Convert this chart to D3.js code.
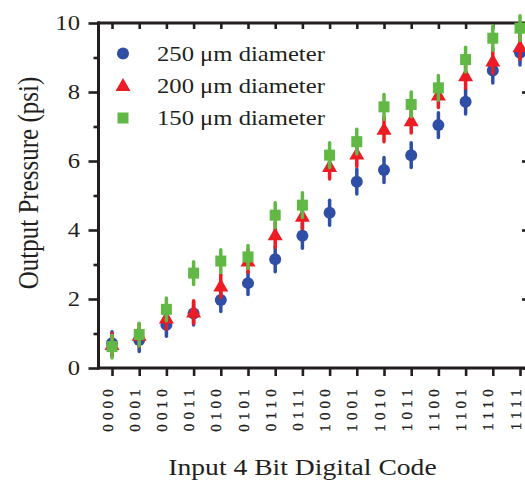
<!DOCTYPE html>
<html>
<head>
<meta charset="utf-8">
<script src="https://cdn.jsdelivr.net/npm/d3@7"></script>
<style>
  html, body { margin: 0; padding: 0; background: #fff; }
  svg { display: block; }
  text { font-family: "Liberation Serif", "Times New Roman", serif; fill: #231f20; }
</style>
</head>
<body>
<svg id="chart" width="525" height="482"></svg>
<script>
// Input codes along the x axis
const codes = ["0000","0001","0010","0011","0100","0101","0110","0111",
               "1000","1001","1010","1011","1100","1101","1110","1111"];

// Measured output pressure (psi) for each orifice diameter
const p250 = [0.72, 0.81, 1.25, 1.58, 1.97, 2.46, 3.15, 3.83, 4.50, 5.40, 5.74, 6.17, 7.04, 7.72, 8.62, 9.14];
const p200 = [0.68, 0.95, 1.45, 1.62, 2.38, 3.10, 3.86, 4.40, 5.84, 6.20, 6.92, 7.17, 7.91, 8.47, 8.90, 9.31];
const p150 = [0.62, 0.97, 1.70, 2.75, 3.10, 3.22, 4.43, 4.72, 6.17, 6.56, 7.57, 7.64, 8.12, 8.94, 9.56, 9.85];

// Error bar half-widths (psi)
const e250 = [0.33, 0.33, 0.33, 0.33, 0.33, 0.33, 0.36, 0.36, 0.36, 0.36, 0.36, 0.36, 0.36, 0.36, 0.36, 0.36];
const e200 = [0.33, 0.33, 0.33, 0.33, 0.33, 0.33, 0.36, 0.36, 0.36, 0.36, 0.36, 0.36, 0.36, 0.36, 0.36, 0.36];
const e150 = [0.33, 0.33, 0.33, 0.33, 0.33, 0.33, 0.36, 0.36, 0.36, 0.36, 0.36, 0.36, 0.36, 0.36, 0.36, 0.36];

const seriesNames = ["250 \u03BCm diameter", "200 \u03BCm diameter", "150 \u03BCm diameter"];
const yTicks = [0, 2, 4, 6, 8, 10];
const yMinorTicks = [1, 3, 5, 7, 9];

const series = [
  { name: seriesNames[0], values: p250, err: e250, color: "#2f4ea6", shape: "circle" },
  { name: seriesNames[1], values: p200, err: e200, color: "#ec1c24", shape: "triangle" },
  { name: seriesNames[2], values: p150, err: e150, color: "#62b845", shape: "square" }
];

const svg = d3.select("#chart");

const frameL = 98.5, frameR = 532, frameT = 23, frameB = 368;
const x = d3.scalePoint().domain(codes).range([112, 520]);
const y = d3.scaleLinear().domain([0, 10]).range([frameB, frameT]);

const ink = "#231f20";

// stretch a text element horizontally by a factor
function widen(sel, k) {
  sel.each(function () {
    const len = this.getComputedTextLength();
    d3.select(this).attr("textLength", len * k).attr("lengthAdjust", "spacingAndGlyphs");
  });
}

// --- axes ---
const axes = svg.append("g");

// left axis
const gl = axes.append("g").attr("transform", `translate(${frameL},0)`)
  .call(d3.axisLeft(y).tickValues(yTicks).tickSize(10).tickFormat(""));
gl.append("g").call(d3.axisLeft(y).tickValues(yMinorTicks).tickSize(5).tickFormat(""));

// right axis (ticks inward)
const gr = axes.append("g").attr("transform", `translate(${frameR},0)`)
  .call(d3.axisLeft(y).tickValues(yTicks).tickSize(10).tickFormat(""));
gr.append("g").call(d3.axisLeft(y).tickValues(yMinorTicks).tickSize(5).tickFormat(""));

// bottom axis
axes.append("g").attr("transform", `translate(0,${frameB})`)
  .call(d3.axisBottom(x).tickSize(8).tickFormat(""));

// top axis (ticks inward)
axes.append("g").attr("transform", `translate(0,${frameT})`)
  .call(d3.axisBottom(x).tickSize(6).tickFormat(""));

axes.selectAll(".domain").remove();
axes.selectAll(".tick line").attr("stroke", ink).attr("stroke-width", 2.6);

// frame lines
axes.append("line").attr("x1", frameL).attr("x2", frameL).attr("y1", frameT - 1.5).attr("y2", frameB + 1.5)
  .attr("stroke", ink).attr("stroke-width", 3);
axes.append("line").attr("x1", frameL - 1.5).attr("x2", frameR).attr("y1", frameB).attr("y2", frameB)
  .attr("stroke", ink).attr("stroke-width", 3);
axes.append("line").attr("x1", frameL - 1.5).attr("x2", frameR).attr("y1", frameT).attr("y2", frameT)
  .attr("stroke", ink).attr("stroke-width", 3);

// y tick labels
svg.append("g").selectAll("text").data(yTicks).join("text")
  .attr("x", 80).attr("y", d => y(d)).attr("dy", "0.34em")
  .attr("text-anchor", "end").attr("font-size", 22)
  .text(d => d)
  .call(widen, 1.12);

// x tick labels (rotated, widely spaced digits)
svg.append("g").selectAll("text").data(codes).join("text")
  .attr("transform", d => `translate(${x(d) + 0.5},385) rotate(-90)`)
  .attr("text-anchor", "end")
  .attr("font-size", 15)
  .attr("letter-spacing", "4.2px")
  .attr("stroke", ink).attr("stroke-width", 0.35)
  .text(d => d);

// axis titles
svg.append("text")
  .attr("x", 302.5).attr("y", 475)
  .attr("text-anchor", "middle").attr("font-size", 23)
  .text("Input 4 Bit Digital Code")
  .call(widen, 1.2);

svg.append("text")
  .attr("transform", "translate(38,183) scale(1.2,1) rotate(-90)")
  .attr("text-anchor", "middle").attr("font-size", 25)
  .text("Output Pressure (psi)");

// --- markers ---
function drawMarker(g, shape, color, cx, cy) {
  if (shape === "circle") {
    g.append("circle").attr("cx", cx).attr("cy", cy).attr("r", 6).attr("fill", color);
  } else if (shape === "triangle") {
    g.append("path").attr("d", `M${cx},${cy - 7.5}L${cx + 7.5},${cy + 5.5}L${cx - 7.5},${cy + 5.5}Z`).attr("fill", color);
  } else {
    g.append("rect").attr("x", cx - 5.5).attr("y", cy - 5.5).attr("width", 11).attr("height", 11).attr("fill", color);
  }
}

const plot = svg.append("g");
series.forEach(s => {
  const g = plot.append("g");
  g.selectAll("line").data(codes).join("line")
    .attr("x1", d => x(d)).attr("x2", d => x(d))
    .attr("y1", (d, i) => y(s.values[i] - s.err[i]))
    .attr("y2", (d, i) => y(s.values[i] + s.err[i]))
    .attr("stroke", s.color).attr("stroke-width", 3.5).attr("stroke-linecap", "round");
  codes.forEach((c, i) => drawMarker(g, s.shape, s.color, x(c), y(s.values[i])));
});

// --- legend ---
const legend = svg.append("g");
const legendRows = [53.5, 85.5, 118];
series.forEach((s, i) => {
  drawMarker(legend, s.shape, s.color, 123, legendRows[i]);
  legend.append("text")
    .attr("x", 157).attr("y", legendRows[i]).attr("dy", "0.34em")
    .attr("font-size", 22)
    .text(s.name)
    .call(widen, 1.12);
});
</script>
</body>
</html>
